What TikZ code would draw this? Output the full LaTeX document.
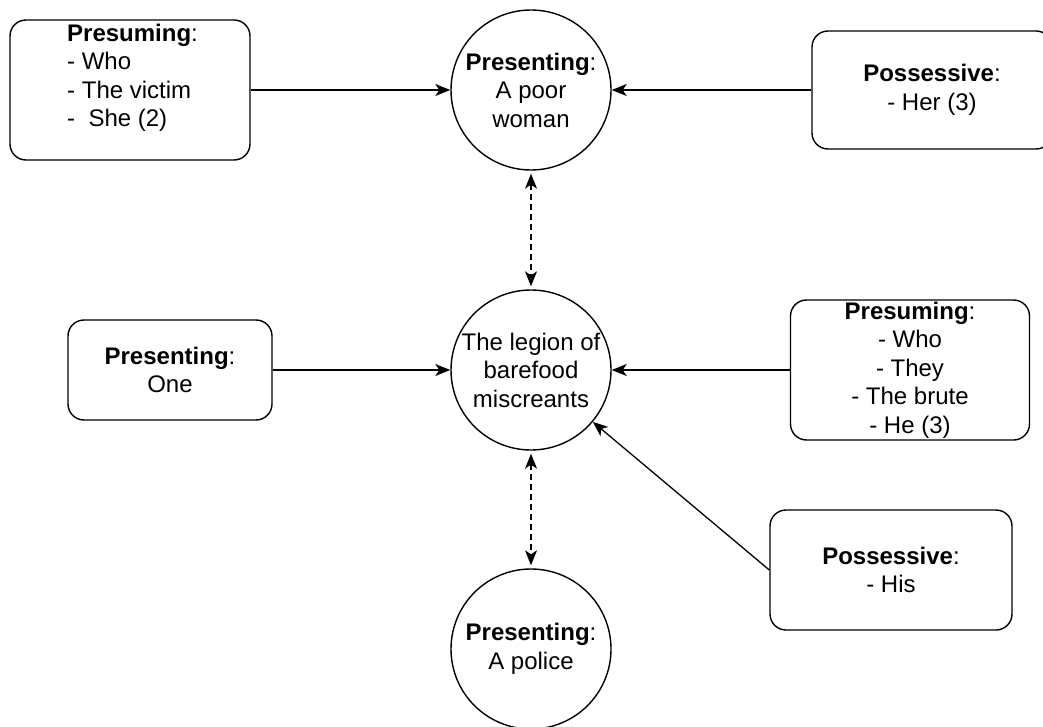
\documentclass[tikz,border=0pt]{standalone}
\usepackage{fontspec}
\setmainfont{Liberation Sans}
\usetikzlibrary{arrows.meta}
\begin{document}
\begin{tikzpicture}[x=1pt,y=-1pt,
  every node/.style={font=\fontsize{24}{28.5}\selectfont, inner sep=0pt},
  box/.style={draw, rounded corners=16pt, line width=1.4pt, align=center},
  ent/.style={draw, circle, minimum size=160pt, line width=1.4pt, align=center},
  tip/.tip={Stealth[length=15pt,width=12pt,inset=4pt]},
  link/.style={line width=1.3pt, -tip},
  coref/.style={line width=1.3pt, dash pattern=on 6pt off 4pt, tip-tip, shorten <=3pt, shorten >=3pt}
]
% page area
\fill[white] (0,0) rectangle (1043,727);
\useasboundingbox (0,0) rectangle (1043,727);

% referents (circles)
\node[ent] (pw) at (531,90)  {\textbf{Presenting}:\\A poor\\woman};
\node[ent] (lg) at (531,370) {The legion of\\barefood\\miscreants};
\node[ent] (pl) at (531,649) {\textbf{Presenting}:\\A police};

% reference boxes
\node[box, minimum width=240pt, minimum height=140pt] (pa) at (130,90) {};
\node[align=left, anchor=west] (pat) at (67,78)
  {\textbf{Presuming}:\\- Who\\- The victim\\-\ \ She (2)};
\node[box, minimum width=240pt, minimum height=118pt] (ph) at (932,90)
  {\textbf{Possessive}:\\- Her (3)};
\node[box, minimum width=204pt, minimum height=100pt] (po) at (170,370)
  {\textbf{Presenting}:\\One};
\node[box, minimum width=239pt, minimum height=140pt] (pt) at (910,370)
  {\textbf{Presuming}:\\- Who\\- They\\- The brute\\- He (3)};
\node[box, minimum width=242pt, minimum height=120pt] (pb) at (891,570)
  {\textbf{Possessive}:\\- His};

% connectors
\draw[link] (pa) -- (pw);
\draw[link] (ph) -- (pw);
\draw[link] (po) -- (lg);
\draw[link] (pt) -- (lg);
\draw[link] (pb.west) -- (lg);
\draw[coref] (pw) -- (lg);
\draw[coref] (lg) -- (pl);
\end{tikzpicture}
\end{document}
